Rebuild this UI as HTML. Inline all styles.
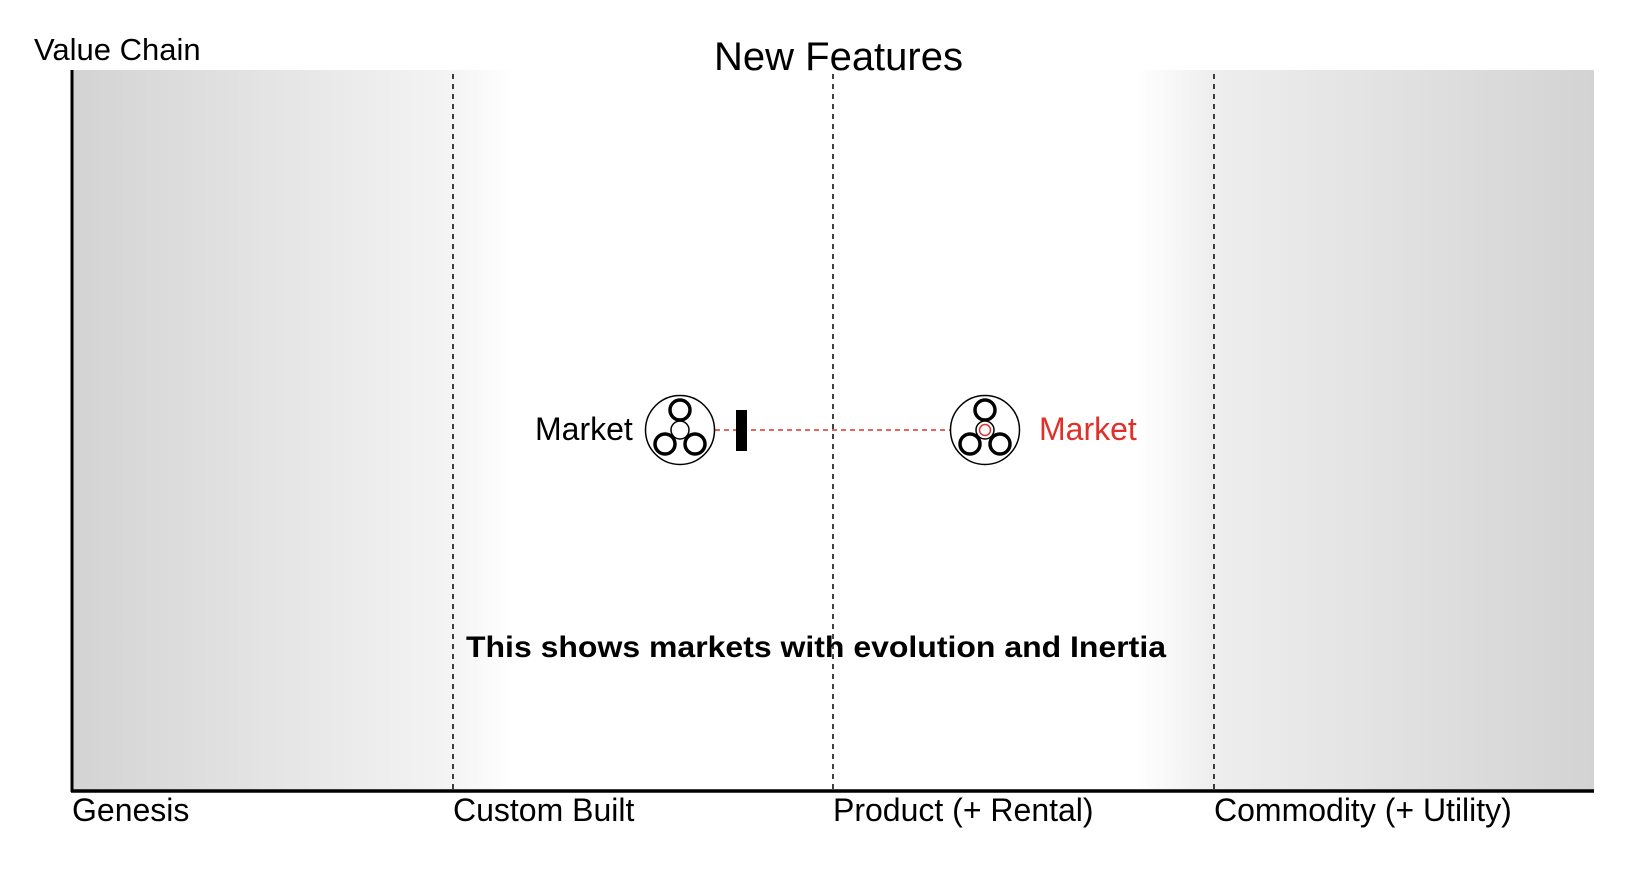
<!DOCTYPE html>
<html><head><meta charset="utf-8"><style>html,body{margin:0;padding:0;background:#fff;}svg{display:block;}</style></head>
<body>
<svg width="1634" height="874" viewBox="0 0 1634 874" xmlns="http://www.w3.org/2000/svg" font-family="Liberation Sans, Arial, sans-serif">
<defs>
<linearGradient id="g" x1="72" y1="0" x2="1594" y2="0" gradientUnits="userSpaceOnUse">
<stop offset="0" stop-color="#d3d3d3"/>
<stop offset="0.25" stop-color="#f4f4f4"/>
<stop offset="0.29" stop-color="#ffffff"/>
<stop offset="0.70" stop-color="#ffffff"/>
<stop offset="0.75" stop-color="#eeeeee"/>
<stop offset="1" stop-color="#d3d3d3"/>
</linearGradient>
</defs>
<rect x="72" y="70" width="1522" height="721" fill="url(#g)"/>
<g stroke="#000" stroke-width="1.5" stroke-dasharray="5,5">
<line x1="453" y1="74" x2="453" y2="791"/>
<line x1="833" y1="74" x2="833" y2="791"/>
<line x1="1214" y1="74" x2="1214" y2="791"/>
</g>
<line x1="72" y1="70" x2="72" y2="792" stroke="#000" stroke-width="3"/>
<line x1="71" y1="791" x2="1594" y2="791" stroke="#000" stroke-width="3.5"/>
<text x="34" y="60" font-size="31">Value Chain</text>
<text x="714" y="70" font-size="40">New Features</text>
<g font-size="32">
<text x="72" y="821">Genesis</text>
<text x="453" y="821">Custom Built</text>
<text x="833" y="821">Product (+ Rental)</text>
<text x="1214" y="821">Commodity (+ Utility)</text>
</g>
<line x1="715" y1="430" x2="951" y2="430" stroke="#e0302a" stroke-width="1.5" stroke-dasharray="5,4"/>
<rect x="736" y="410" width="11" height="41" fill="#000"/>
<g transform="translate(680,430)" fill="#fff" stroke="#000">
<circle r="34.5" stroke-width="1.5"/>
<circle cx="0" cy="0" r="9" stroke-width="1.5"/>
<circle cx="0" cy="-20" r="10" stroke-width="3.5"/>
<circle cx="-15" cy="14" r="10" stroke-width="3.5"/>
<circle cx="15" cy="14" r="10" stroke-width="3.5"/>
</g>
<g transform="translate(985,430)" fill="#fff" stroke="#000">
<circle r="34.5" stroke-width="1.5"/>
<circle cx="0" cy="-20" r="10" stroke-width="3.5"/>
<circle cx="-15" cy="14" r="10" stroke-width="3.5"/>
<circle cx="15" cy="14" r="10" stroke-width="3.5"/>
<circle cx="0" cy="0" r="9" stroke-width="1.5"/>
<circle cx="0" cy="0" r="5.5" stroke="#e0302a" stroke-width="1.5"/>
</g>
<text x="535" y="440" font-size="32">Market</text>
<text x="1039" y="440" font-size="32" fill="#e0302a">Market</text>
<text x="466" y="657" font-size="30" font-weight="bold" textLength="700" lengthAdjust="spacingAndGlyphs">This shows markets with evolution and Inertia</text>
</svg>
</body></html>
